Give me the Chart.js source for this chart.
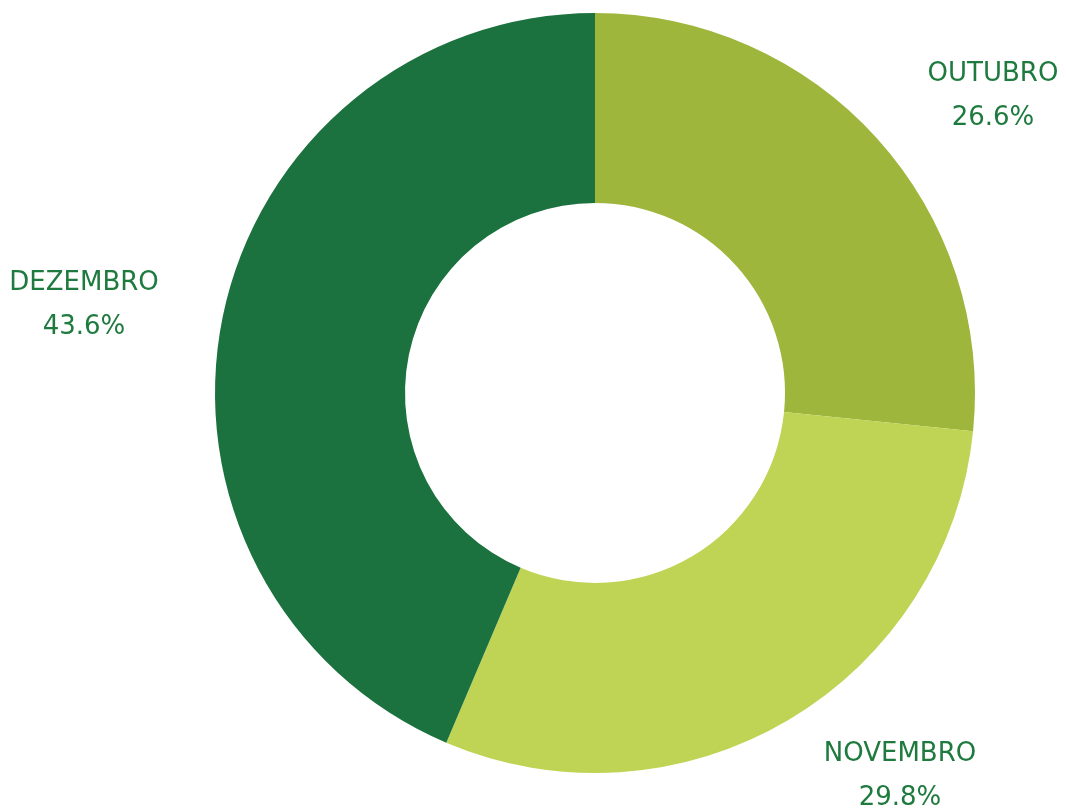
<!DOCTYPE html>
<html>
<head>
<meta charset="utf-8">
<script src="https://cdn.jsdelivr.net/npm/chart.js@4"></script>
<style>
  html, body { margin: 0; padding: 0; background: #ffffff; }
  #wrap { width: 1066px; height: 810px; }
</style>
</head>
<body>
<div id="wrap"><canvas id="grafico"></canvas></div>
<script>
// Participacao por mes (%)
const meses = ['OUTUBRO', 'NOVEMBRO', 'DEZEMBRO'];
const participacao = [26.6, 29.8, 43.6];
const cores = ['#9db63b', '#bfd454', '#1b723e'];

// Rotulos externos: posicao do centro do texto (px)
const rotulos = {
    id: 'rotulos',
    afterDraw(chart, args, opts) {
        const ctx = chart.ctx;
        ctx.save();
        ctx.fillStyle = opts.color;
        ctx.font = opts.font;
        ctx.textAlign = 'center';
        ctx.textBaseline = 'middle';
        chart.data.labels.forEach((nome, i) => {
            let p = opts.positions[i];
            let valor = chart.data.datasets[0].data[i];
            ctx.fillText(nome, p[0], p[1]);
            ctx.fillText(valor.toFixed(1) + '%', p[0], p[1] + opts.lineGap);
        });
        ctx.restore();
    }
};

let ctx = document.getElementById('grafico').getContext('2d');
let chart = new Chart(ctx, {
    type: 'doughnut',
    data: {
        labels: meses,
        datasets: [{
            data: participacao,
            backgroundColor: cores,
            borderWidth: 0
        }]
    },
    options: {
        responsive: true,
        maintainAspectRatio: false,
        animation: false,
        cutout: '50%',
        layout: { padding: { top: 13, bottom: 37, left: 124, right: 0 } },
        plugins: {
            legend: { display: false },
            tooltip: { enabled: false },
            rotulos: {
                color: '#1e7a3e',
                font: '26px "DejaVu Sans"',
                lineGap: 44,
                positions: [[993, 74], [900, 754], [84, 283]]
            }
        }
    },
    plugins: [rotulos]
});
</script>
</body>
</html>
